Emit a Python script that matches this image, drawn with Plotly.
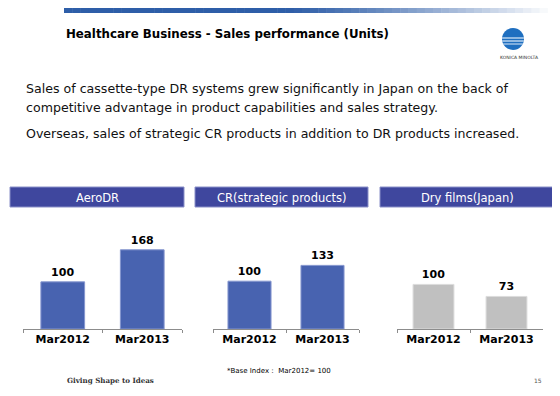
import plotly.graph_objects as go

# The page body has an 8px default margin, so the figure is drawn 8px in.
OFF = 8
W, H = 560 - OFF, 396 - OFF

categories = ["Mar2012", "Mar2013"]
panel_titles = ["AeroDR", "CR(strategic products)", "Dry films(Japan)"]
aerodr_values = [100, 168]
cr_values = [100, 133]
dryfilm_values = [100, 73]

title_text = "Healthcare Business - Sales performance (Units)"
body_lines = [
    "Sales of cassette-type DR systems grew significantly in Japan on the back of",
    "competitive advantage in product capabilities and sales strategy.",
    "Overseas, sales of strategic CR products in addition to DR products increased.",
]
footnote = "*Base Index\uff1a Mar2012= 100"
slogan = "Giving Shape to Ideas"
page_no = "15"


def px(x):
    return (x - OFF) / W


def py(y):
    return 1 - (y - OFF) / H


fig = go.Figure()

BLUE = "#4863B0"
BLUE_LINE = "#8596CF"
GRAY = "#C0C0C0"
GRAY_LINE = "#DCDCDC"

series = [aerodr_values, cr_values, dryfilm_values]
colors = [(BLUE, BLUE_LINE), (BLUE, BLUE_LINE), (GRAY, GRAY_LINE)]
x_domains = [(23, 182), (213, 359), (397, 543)]
y_ranges = [[0, 210], [0, 207], [0, 222]]
gaps = [0.45, 0.41, 0.44]
base_y = 329
top_y = 230

for i, vals in enumerate(series):
    n = "" if i == 0 else str(i + 1)
    fig.add_trace(go.Bar(
        x=categories, y=vals,
        xaxis="x" + n, yaxis="y" + n,
        marker=dict(color=colors[i][0], line=dict(color=colors[i][1], width=1)),
        text=[str(v) for v in vals], textposition="outside",
        textfont=dict(family="DejaVu Sans", size=11, color="#000000"),
        texttemplate="<b>%{text}</b>", cliponaxis=False,
        hoverinfo="skip", showlegend=False, width=1 - gaps[i],
    ))
    d = x_domains[i]
    fig.update_layout(**{
        "xaxis" + n: dict(
            domain=[px(d[0]), px(d[1])], anchor="y" + n,
            showline=True, linecolor="#8C8C8C", linewidth=1,
            ticks="outside", ticklen=3, tickcolor="#8C8C8C", tickson="boundaries",
            tickfont=dict(family="DejaVu Sans", size=11, color="#000000"),
            tickprefix="<b>", ticksuffix="</b>", showgrid=False, zeroline=False,
            fixedrange=True,
        ),
        "yaxis" + n: dict(
            domain=[py(base_y), py(top_y)], anchor="x" + n, range=y_ranges[i],
            visible=False, showgrid=False, zeroline=False, fixedrange=True,
        ),
    })

shapes = []
# banner gradient
x0, x1 = 64, 556
seg = 60
c0 = (46, 94, 168)
for k in range(seg):
    xa = x0 + (x1 - x0) * k / seg
    xb = x0 + (x1 - x0) * (k + 1) / seg + 0.5
    t = k / (seg - 1)
    f = 0 if t < 0.45 else ((t - 0.45) / 0.55) ** 1.2
    col = tuple(int(c + (255 - c) * f) for c in c0)
    shapes.append(dict(type="rect", xref="paper", yref="paper",
                       x0=px(xa), x1=px(xb), y0=py(13), y1=py(4),
                       fillcolor="rgb(%d,%d,%d)" % col, line=dict(width=0), layer="below"))

# panel header boxes
headers = [(10, 184), (195, 368), (380, 554)]
annotations = []
for (a, b), t in zip(headers, panel_titles):
    shapes.append(dict(type="rect", xref="paper", yref="paper",
                       x0=px(a), x1=px(b), y0=py(207), y1=py(187),
                       fillcolor="#3F479E", line=dict(color="#8A90C8", width=1)))
    annotations.append(dict(xref="paper", yref="paper", x=px((a + b) / 2), y=py(197.5),
                            text=t, showarrow=False, xanchor="center", yanchor="middle",
                            font=dict(family="DejaVu Sans", size=11.5, color="#FFFFFF")))

# logo sphere
cx, cy, r = 513, 39, 11
shapes.append(dict(type="circle", xref="paper", yref="paper",
                   x0=px(cx - r), x1=px(cx + r), y0=py(cy + r), y1=py(cy - r),
                   fillcolor="#1F6FC0", line=dict(width=0)))
for dy, w in [(-1, 1.2), (2, 1.2), (5, 1.0)]:
    half = (r * r - dy * dy) ** 0.5
    shapes.append(dict(type="line", xref="paper", yref="paper",
                       x0=px(cx - half), x1=px(cx + half), y0=py(cy + dy), y1=py(cy + dy),
                       line=dict(color="#DDEBF8", width=w)))

annotations.append(dict(xref="paper", yref="paper", x=px(64), y=py(34),
                        text="<b>" + title_text + "</b>", showarrow=False,
                        xanchor="left", yanchor="middle",
                        font=dict(family="DejaVu Sans", size=11.8, color="#000000")))
annotations.append(dict(xref="paper", yref="paper", x=px(519), y=py(57),
                        text="KONICA MINOLTA", showarrow=False,
                        xanchor="center", yanchor="middle",
                        font=dict(family="DejaVu Sans", size=4.5, color="#333333")))
for yy, line in zip([88.5, 107.5, 133.5], body_lines):
    annotations.append(dict(xref="paper", yref="paper", x=px(24), y=py(yy),
                            text=line, showarrow=False, xanchor="left", yanchor="middle",
                            font=dict(family="DejaVu Sans", size=12.6, color="#111111")))
annotations.append(dict(xref="paper", yref="paper", x=px(225), y=py(371),
                        text=footnote, showarrow=False, xanchor="left", yanchor="middle",
                        font=dict(family="DejaVu Sans", size=7, color="#000000")))
annotations.append(dict(xref="paper", yref="paper", x=px(65), y=py(380),
                        text="<b>" + slogan + "</b>", showarrow=False, xanchor="left",
                        yanchor="middle",
                        font=dict(family="DejaVu Serif", size=7.1, color="#333333")))
annotations.append(dict(xref="paper", yref="paper", x=px(544), y=py(380),
                        text=page_no, showarrow=False, xanchor="right", yanchor="middle",
                        font=dict(family="DejaVu Sans", size=6, color="#555555")))

fig.update_layout(
    width=W, height=H, margin=dict(l=0, r=0, t=0, b=0),
    paper_bgcolor="#FFFFFF", plot_bgcolor="rgba(0,0,0,0)",
    shapes=shapes, annotations=annotations,
)

fig.write_html("out.html", config={"displayModeBar": False})
